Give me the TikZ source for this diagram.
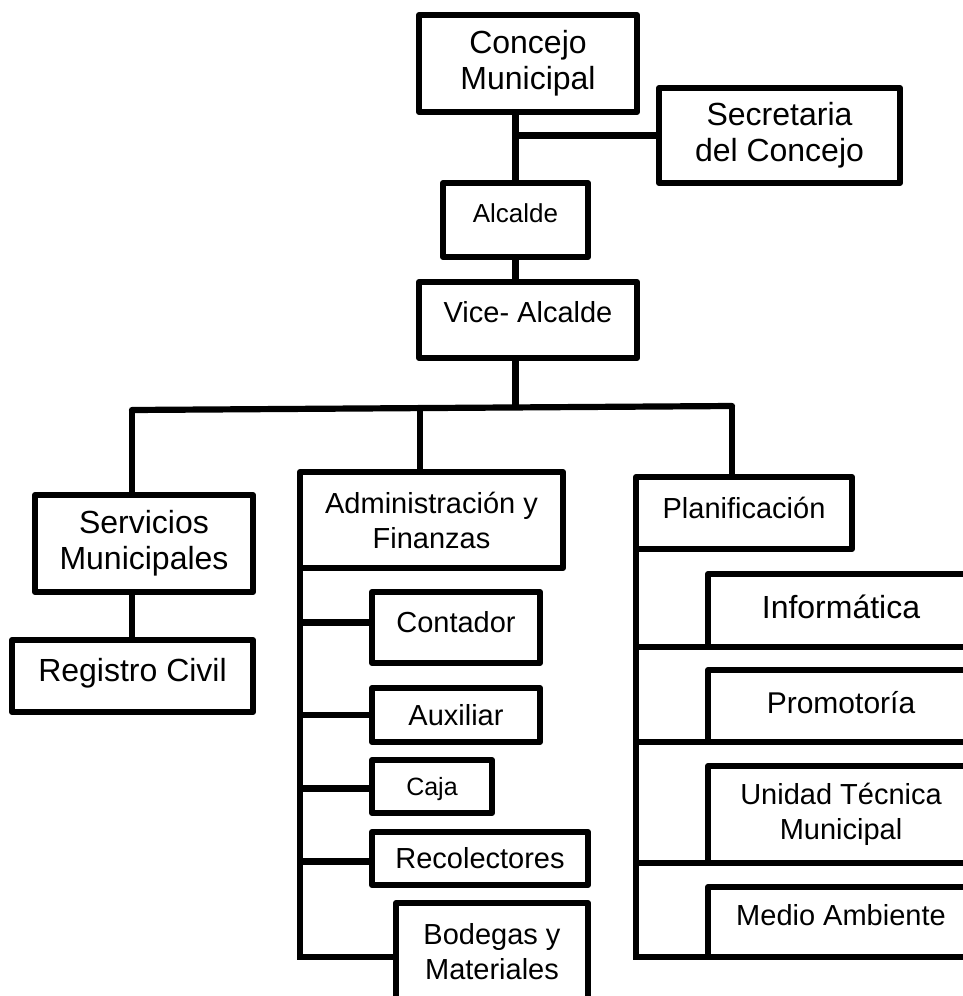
\documentclass[tikz,border=0pt]{standalone}
\usepackage{fontspec}
\setmainfont{Liberation Sans}
\tikzset{
  box/.style={draw, line width=6.2pt, line join=round, inner sep=0pt, outer sep=0pt, align=center},
  fbig/.style={font=\fontsize{32}{36}\selectfont},
  fmid/.style={font=\fontsize{29}{35}\selectfont},
  fsm/.style={font=\fontsize{26}{30}\selectfont},
  fxs/.style={font=\fontsize{25}{30}\selectfont},
  wire/.style={line width=6.2pt},
}
\begin{document}
\begin{tikzpicture}[x=1pt,y=-1pt]
\useasboundingbox (0,0) rectangle (963,996);
\clip (0,0) rectangle (963,996);
% top levels
\node[box,fbig,minimum width=218pt,minimum height=97pt] (cm) at (528,63.5) {Concejo\\Municipal};
\node[box,fbig,minimum width=241pt,minimum height=95pt] (sc) at (779.5,135.5) {Secretaria\\del Concejo};
\node[box,fsm,minimum width=145pt,minimum height=74pt,text height=18.6pt,text depth=14pt] (al) at (515.5,220) {Alcalde};
\node[box,fmid,minimum width=218pt,minimum height=76pt,text height=20.8pt,text depth=16pt] (va) at (528,320) {Vice- Alcalde};
% second level
\node[box,fbig,minimum width=218pt,minimum height=97pt] (sm) at (144,543.5) {Servicios\\Municipales};
\node[box,fbig,minimum width=241pt,minimum height=72pt,text height=22.9pt,text depth=12pt] (rc) at (132.5,676) {Registro Civil};
\node[box,fmid,minimum width=263pt,minimum height=96pt] (af) at (431.5,520) {Administración y\\Finanzas};
\node[box,fmid,minimum width=216pt,minimum height=72pt,text height=20.8pt,text depth=10pt] (pl) at (744,513) {Planificación};
% admin children
\node[box,fmid,minimum width=168pt,minimum height=71pt,text height=20.8pt,text depth=11pt] (ct) at (456,627.5) {Contador};
\node[box,fmid,minimum width=168pt,minimum height=54pt,text height=20.8pt,text depth=0pt] (ax) at (456,715) {Auxiliar};
\node[box,fxs,minimum width=120pt,minimum height=53pt,text height=17.9pt,text depth=0pt] (cj) at (432,786.5) {Caja};
\node[box,fmid,minimum width=216pt,minimum height=53pt,text height=20.8pt,text depth=0pt] (rl) at (480,858.5) {Recolectores};
\node[box,fmid,minimum width=192pt,minimum height=97pt] (bm) at (492,951.5) {Bodegas y\\Materiales};
% planning children
\node[box,fbig,minimum width=266pt,minimum height=73pt,text height=22.4pt,text depth=7pt] (inf) at (841,610.5) {Informática};
\node[box,font=\fontsize{30}{34}\selectfont,minimum width=266pt,minimum height=72pt,text height=21.5pt,text depth=6pt] (pr) at (841,706) {Promotoría};
\node[box,fmid,minimum width=266pt,minimum height=97pt] (ut) at (841,814.5) {Unidad Técnica\\Municipal};
\node[box,fmid,minimum width=266pt,minimum height=70pt,text height=20.8pt,text depth=14pt] (ma) at (841,922) {Medio Ambiente};
% coordinates
\coordinate (barL) at (132,410);
\coordinate (barR) at (732,406);
\coordinate (barA) at (420,408.5);
\coordinate (barV) at (515.5,407.5);
\coordinate (aBot) at (300,957);
\coordinate (pBot) at (636,957);
% connectors top
\draw[wire] (cm.south -| al.north) -- (al.north);
\draw[wire] (al.north |- sc.west) -- (sc.west);
\draw[wire] (al.south) -- (al.south |- va.north);
\draw[wire] (va.south -| barV) -- (barV);
\draw[wire,line cap=round] (barL) -- (barR);
\draw[wire] (barL) -- (barL |- sm.north);
\draw[wire] (barA) -- (barA |- af.north);
\draw[wire] (barR) -- (barR |- pl.north);
\draw[wire] (sm.south -| barL) -- (rc.north -| barL);
% admin spine
\draw[wire] (af.south west) -- (aBot) -- (aBot -| bm.west);
\draw[wire] ([yshift=5pt]ct.west -| aBot) -- ([yshift=5pt]ct.west);
\draw[wire] (ax.west -| aBot) -- (ax.west);
\draw[wire] ([yshift=-2pt]cj.west -| aBot) -- ([yshift=-2pt]cj.west);
\draw[wire] ([yshift=-3pt]rl.west -| aBot) -- ([yshift=-3pt]rl.west);
% planning spine
\draw[wire] (pl.south west) -- (pBot) -- (ma.south west);
\draw[wire] (inf.south west -| pBot) -- (inf.south west);
\draw[wire] (pr.south west -| pBot) -- (pr.south west);
\draw[wire] (ut.south west -| pBot) -- (ut.south west);
\end{tikzpicture}
\end{document}
